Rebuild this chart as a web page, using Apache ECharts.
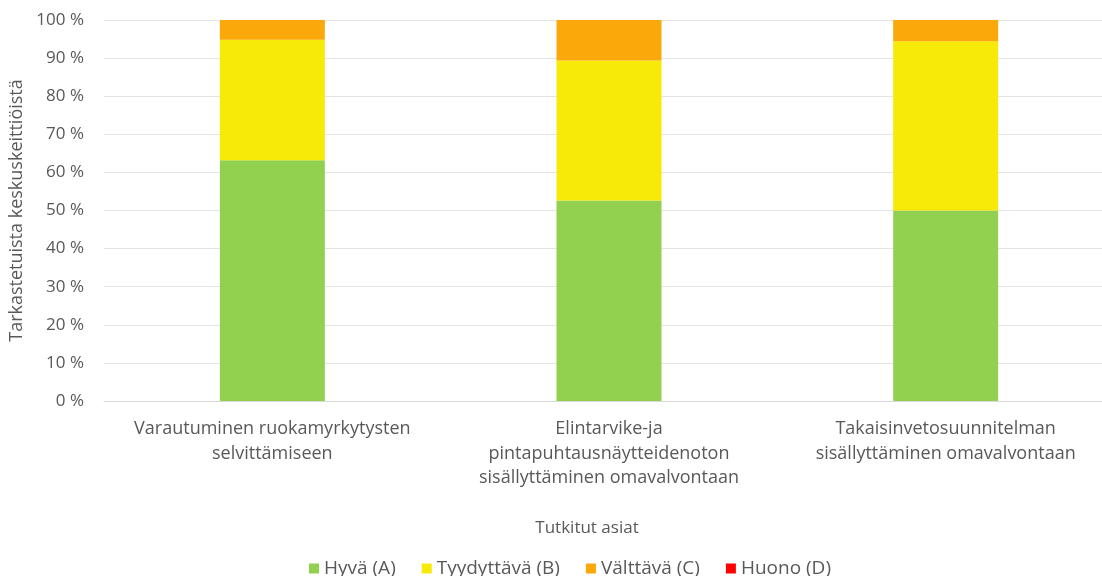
<!DOCTYPE html>
<html>
<head>
<meta charset="utf-8">
<script src="https://cdn.jsdelivr.net/npm/echarts@6/dist/echarts.min.js"></script>
<style>
  html, body { margin: 0; padding: 0; background: #fff; }
  #chart { width: 1102px; height: 576px; }
</style>
</head>
<body>
<div id="chart"></div>
<script>
// Tutkitut asiat (categories), wrapped as in the printed report
const categories = [
  'Varautuminen ruokamyrkytysten\nselvittämiseen',
  'Elintarvike-ja\npintapuhtausnäytteidenoton\nsisällyttäminen omavalvontaan',
  'Takaisinvetosuunnitelman\nsisällyttäminen omavalvontaan'
];

// Share of inspected central kitchens per grade (%)
const hyva = [63.2, 52.6, 50.0];
const tyydyttava = [31.6, 36.8, 44.4];
const valttava = [5.2, 10.6, 5.6];
const huono = [0, 0, 0];

const seriesNames = ['Hyvä (A)', 'Tyydyttävä (B)', 'Välttävä (C)', 'Huono (D)'];
const seriesColors = ['#92D050', '#F8EA08', '#FAA80A', '#FF0000'];
const seriesData = [hyva, tyydyttava, valttava, huono];

const yAxisTitle = 'Tarkastetuista keskuskeittiöistä';
const xAxisTitle = 'Tutkitut asiat';

const font = '"Open Sans", "Noto Sans", sans-serif';
const textColor = '#595959';

const chart = echarts.init(document.getElementById('chart'));

chart.setOption({
  animation: false,
  backgroundColor: '#ffffff',
  textStyle: { fontFamily: font },
  // plot area runs past the right edge of the canvas
  grid: {
    left: 104, width: 1010, top: 20, height: 381,
    containLabel: false,
    outerBoundsMode: 'none'
  },
  legend: {
    data: seriesNames,
    left: 309,
    top: 559,
    padding: 0,
    itemWidth: 10,
    itemHeight: 10,
    itemGap: 26,
    icon: 'rect',
    textStyle: { fontFamily: font, fontSize: 19, color: textColor }
  },
  graphic: [{
    type: 'text',
    x: 587,
    y: 520,
    style: {
      text: xAxisTitle,
      font: '17px ' + font,
      fill: textColor,
      align: 'center',
      textAlign: 'center'
    }
  }],
  xAxis: {
    type: 'category',
    data: categories,
    axisLine: { show: true, lineStyle: { color: '#d9d9d9', width: 1 } },
    axisTick: { show: false },
    axisLabel: {
      interval: 0,
      margin: 16,
      fontSize: 18,
      lineHeight: 24.5,
      color: textColor,
      fontFamily: font
    }
  },
  yAxis: {
    type: 'value',
    min: 0,
    max: 100,
    interval: 10,
    name: yAxisTitle,
    nameLocation: 'middle',
    nameGap: 72,
    nameTextStyle: { fontSize: 18, color: textColor, fontFamily: font },
    axisLine: { show: false },
    axisTick: { show: false },
    splitLine: { lineStyle: { color: '#e4e4e4', width: 1 } },
    axisLabel: {
      formatter: '{value} %',
      margin: 20,
      fontSize: 17,
      color: textColor,
      fontFamily: font
    }
  },
  series: seriesNames.map((name, i) => ({
    name: name,
    type: 'bar',
    stack: 'total',
    barWidth: 105,
    data: seriesData[i],
    itemStyle: { color: seriesColors[i] }
  }))
});
</script>
</body>
</html>
